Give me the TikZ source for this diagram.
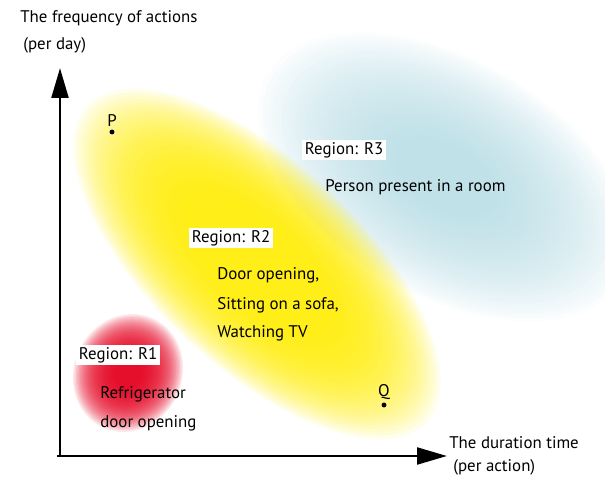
\documentclass[tikz,border=0pt]{standalone}
\usepackage{fontspec}
\setmainfont{PT Sans}
\usetikzlibrary{arrows.meta}
\definecolor{blobyellow}{RGB}{255,236,0}
\definecolor{blobred}{RGB}{228,0,30}
\definecolor{blobblue}{RGB}{170,214,224}
\tikzset{
  axis/.style={line width=1.7pt, -{Triangle[length=17pt, width=9.5pt]}},
  region/.style={fill=white, inner sep=1.5pt, anchor=west},
  txt/.style={inner sep=0pt, anchor=west},
  pt/.style={circle, fill=black, inner sep=0pt, minimum size=2.8pt},
}
\begin{document}
\begin{tikzpicture}[x=0.02cm, y=0.02cm, font=\fontsize{9.6}{11}\selectfont]
\useasboundingbox (0,0) rectangle (605,477);

% soft regions, many thin fills on top of each other
\foreach \i [evaluate=\i as \s using 1-0.025*\i] in {0,...,30}
  \fill[color=blobblue, fill opacity=0.045, rotate around={-30:(445,300)}] (445,300) ellipse ({205*\s} and {118*\s});
\foreach \i [evaluate=\i as \s using 1-0.02*\i] in {0,...,30}
  \fill[color=blobyellow, fill opacity=0.075, rotate around={-43:(257,213)}] (257,213) ellipse ({232*\s} and {103*\s});
\foreach \i [evaluate=\i as \s using 1-0.025*\i] in {0,...,30}
  \fill[color=blobred, fill opacity=0.085, rotate around={-25:(128,104)}] (128,104) ellipse ({54*\s} and {60*\s});

% axes
\coordinate (origin) at (60,21);
\coordinate (ytip) at (60,409);
\coordinate (xtip) at (447,21);
\draw [axis] (origin) -- (ytip);
\draw [axis] ([xshift=-1.5]origin) -- (xtip);

\node[txt] (ylab) at (20,459) {The frequency of actions};
\node[txt] (yunit) at (23,432) {(per day)};
\node[txt] (xlab) at (449,34) {The duration time};
\node[txt] (xunit) at (453,10) {(per action)};

% points P and Q
\node[pt] (p) at (112,345) {};
\node[above=3pt, inner sep=0pt] (plab) at (p) {P};
\node[pt] (q) at (384,72) {};
\node[above=3pt, inner sep=0pt] (qlab) at (q) {Q};

% region labels
\node[region] (r3) at (302,327) {Region: R3};
\node[txt] (r3text) at (325,290) {Person present in a room};
\node[region] (r2) at (189,239) {Region: R2};
\node[txt] (r2a) at (217,202) {Door opening,};
\node[txt] (r2b) at (217,172) {Sitting on a sofa,};
\node[txt] (r2c) at (217,144) {Watching TV};
\node[region] (r1) at (76,122) {Region: R1};
\node[txt] (r1a) at (100,83) {Refrigerator};
\node[txt] (r1b) at (100,54) {door opening};
\end{tikzpicture}
\end{document}
